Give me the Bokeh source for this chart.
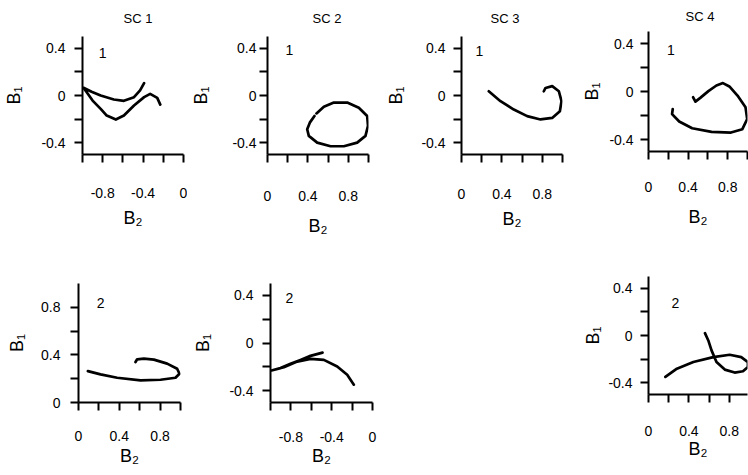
from bokeh.plotting import figure
from bokeh.models import Range1d, FixedTicker, NumeralTickFormatter, Label, Spacer
from bokeh.layouts import row, column
from bokeh.embed import file_html
from bokeh.resources import INLINE

FONT = "Liberation Sans"

# ---------------- data ----------------
titles = ["SC 1", "SC 2", "SC 3", "SC 4"]
x_label = "B\u2082"
y_label = "B\u2081"

neg_major = [-0.8, -0.4, 0.0]
neg_minor = [-1.0, -0.6, -0.2]
pos_major = [0.0, 0.4, 0.8]
pos_minor = [0.2, 0.6, 1.0]
sym_major = [-0.4, 0.0, 0.4]
sym_minor = [-0.2, 0.2]
unit_major = [0.0, 0.4, 0.8]
unit_minor = [0.2, 0.6]

# row 1 curves (mode 1)
sc1_m1_b2 = [-0.39, -0.43, -0.49, -0.59, -0.69, -0.82, -0.91, -0.99, -0.90, -0.82, -0.76, -0.67, -0.59, -0.49, -0.39, -0.33, -0.26, -0.23]
sc1_m1_b1 = [0.105, 0.043, -0.014, -0.045, -0.034, 0.0, 0.032, 0.065, -0.043, -0.113, -0.170, -0.204, -0.170, -0.085, -0.014, 0.014, -0.02, -0.077]

sc2_m1_b2 = [0.485, 0.558, 0.657, 0.789, 0.904, 0.987, 0.995, 0.97, 0.888, 0.756, 0.624, 0.492, 0.409, 0.393, 0.419, 0.465]
sc2_m1_b1 = [-0.152, -0.095, -0.060, -0.060, -0.104, -0.174, -0.258, -0.342, -0.399, -0.430, -0.430, -0.399, -0.342, -0.286, -0.230, -0.174]

sc3_m1_b2 = [0.27, 0.386, 0.518, 0.65, 0.782, 0.898, 0.974, 0.99, 0.964, 0.898, 0.832, 0.815]
sc3_m1_b1 = [0.036, -0.048, -0.119, -0.175, -0.203, -0.19, -0.133, -0.048, 0.036, 0.079, 0.064, 0.036]

sc4_m1_b2 = [0.245, 0.238, 0.31, 0.441, 0.637, 0.833, 0.948, 0.997, 0.98, 0.899, 0.817, 0.752, 0.686, 0.605, 0.523, 0.474, 0.451]
sc4_m1_b1 = [-0.146, -0.188, -0.25, -0.306, -0.337, -0.342, -0.314, -0.23, -0.132, -0.034, 0.042, 0.07, 0.05, 0.003, -0.053, -0.084, -0.048]

# row 2 curves (mode 2)
sc1_m2_b2 = [0.092, 0.216, 0.379, 0.608, 0.804, 0.951, 0.99, 0.967, 0.869, 0.739, 0.641, 0.575, 0.559]
sc1_m2_b1 = [0.264, 0.236, 0.208, 0.186, 0.191, 0.208, 0.242, 0.284, 0.327, 0.36, 0.369, 0.363, 0.34]

sc2_m2_b2 = [-0.49, -0.608, -0.706, -0.804, -0.902, -0.99, -0.869, -0.738, -0.608, -0.477, -0.346, -0.248, -0.183]
sc2_m2_b1 = [-0.081, -0.108, -0.142, -0.175, -0.211, -0.231, -0.203, -0.156, -0.133, -0.142, -0.197, -0.267, -0.35]

sc4_m2_b2 = [0.167, 0.281, 0.444, 0.641, 0.804, 0.918, 0.984, 0.984, 0.935, 0.853, 0.755, 0.673, 0.624, 0.592, 0.559]
sc4_m2_b1 = [-0.351, -0.281, -0.225, -0.183, -0.163, -0.183, -0.225, -0.267, -0.303, -0.314, -0.289, -0.225, -0.126, -0.042, 0.02]

tags = ["1", "1", "1", "1", "2", "2", "2"]
tag_b2 = [-0.80, 0.218, 0.178, 0.225, 0.216, -0.814, 0.265]
tag_b1 = [0.357, 0.387, 0.375, 0.345, 0.84, 0.375, 0.278]


def make_panel(w, h, bl, br, bt, bb, xr, yr, xmaj, xmin, ymaj, ymin, b2, b1, idx,
               xstd, xlstd, ystd, ylstd, title=None, tstand=16, toff=0):
    p = figure(width=w, height=h, x_range=Range1d(*xr), y_range=Range1d(*yr),
               min_border_left=bl, min_border_right=br, min_border_top=bt, min_border_bottom=bb,
               output_backend="svg", toolbar_location=None, tools="", title=title)
    p.outline_line_color = None
    p.grid.visible = False
    p.background_fill_color = "white"
    p.border_fill_color = "white"
    if title is not None:
        p.title.text_font = FONT
        p.title.text_font_size = "13px"
        p.title.text_font_style = "normal"
        p.title.text_color = "black"
        p.title.align = "left"
        p.title.vertical_align = "top"
        p.title.standoff = tstand
        p.title.offset = toff
    p.xaxis.ticker = FixedTicker(ticks=xmaj, minor_ticks=xmin)
    p.yaxis.ticker = FixedTicker(ticks=ymaj, minor_ticks=ymin)
    for ax in (p.xaxis[0], p.yaxis[0]):
        ax.formatter = NumeralTickFormatter(format="0.[0]")
        ax.axis_line_width = 2
        ax.axis_line_color = "black"
        ax.major_tick_line_width = 2
        ax.minor_tick_line_width = 2
        ax.major_tick_line_color = "black"
        ax.minor_tick_line_color = "black"
        ax.major_tick_out = 8
        ax.major_tick_in = 0
        ax.minor_tick_out = 8
        ax.minor_tick_in = 0
        ax.major_label_text_font = FONT
        ax.major_label_text_font_size = "14px"
        ax.major_label_text_color = "black"
        ax.axis_label_text_font = FONT
        ax.axis_label_text_font_size = "18px"
        ax.axis_label_text_font_style = "normal"
        ax.axis_label_text_color = "black"
    p.xaxis.axis_label = x_label
    p.yaxis.axis_label = y_label
    p.xaxis.major_label_standoff = xstd
    p.xaxis.axis_label_standoff = xlstd
    p.yaxis.major_label_standoff = ystd
    p.yaxis.axis_label_standoff = ylstd
    p.line(b2, b1, line_width=2.7, line_color="black", line_join="round", line_cap="round")
    p.add_layout(Label(x=tag_b2[idx], y=tag_b1[idx], text=tags[idx], text_align="center",
                       text_baseline="middle", text_font=FONT, text_font_size="14px",
                       text_color="black"))
    return p


H1, H2 = 262, 213

# left block: SC1..SC3 on top, SC1/SC2 below
p1 = make_panel(187, H1, 82, 4, 36, 108, (-1, 0), (-0.5, 0.5), neg_major, neg_minor, sym_major, sym_minor,
                sc1_m1_b2, sc1_m1_b1, 0, 25, 7, 9, 14, title=titles[0], tstand=18, toff=41)
p2 = make_panel(193, H1, 80, 12, 36, 108, (0, 1), (-0.5, 0.5), pos_major, pos_minor, sym_major, sym_minor,
                sc2_m1_b2, sc2_m1_b1, 1, 28, 12, 3, 18, title=titles[1], tstand=18, toff=45)
p3 = make_panel(192, H1, 81, 10, 36, 108, (0, 1), (-0.5, 0.5), pos_major, pos_minor, sym_major, sym_minor,
                sc3_m1_b2, sc3_m1_b1, 2, 26, 7, 8, 12, title=titles[2], tstand=18, toff=29)

p5 = make_panel(187, H2, 78, 7, 21, 73, (0, 1), (0, 1), pos_major, pos_minor, unit_major, unit_minor,
                sc1_m2_b2, sc1_m2_b1, 4, 20, 2, 10, 11)
p6 = make_panel(193, H2, 83, 8, 21, 73, (-1, 0), (-0.5, 0.5), neg_major, neg_minor, sym_major, sym_minor,
                sc2_m2_b2, sc2_m2_b1, 5, 21, 1, 9, 13)

# right column: SC4 top and bottom
p4 = make_panel(176, H1, 73, 1, 31, 111, (0, 1), (-0.5, 0.5), pos_major, pos_minor, sym_major, sym_minor,
                sc4_m1_b2, sc4_m1_b1, 3, 22, 12, 7, 4, title=titles[3], tstand=12, toff=37)
p7 = make_panel(176, H2, 76, 0, 14, 81, (0, 0.98), (-0.5, 0.5), pos_major, pos_minor, sym_major, sym_minor,
                sc4_m2_b2, sc4_m2_b1, 6, 23, 0, 8, 2)

left = column(row(p1, p2, p3), row(p5, p6, Spacer(width=192, height=H2)))
right = column(p4, p7)
layout = row(left, right)

open("out.html", "w").write(file_html(layout, INLINE))
